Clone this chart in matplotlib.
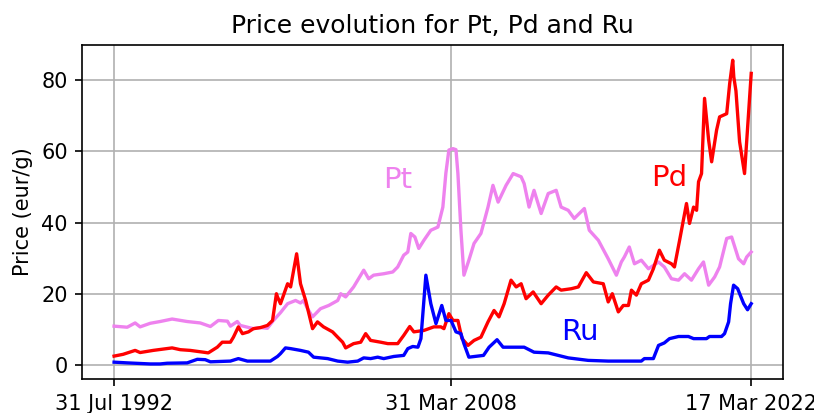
"""Price evolution chart for Pt, Pd and Ru."""

import matplotlib

matplotlib.use("Agg")

from matplotlib import pyplot as plt  # noqa: E402

# dates are decimal years, prices in eur/g
pt_years = [
    1992.58, 1993.00, 1993.19, 1993.56, 1993.79, 1994.26, 1994.72, 1995.28, 1995.98, 1996.59,
    1997.06, 1997.43, 1997.85, 1997.99, 1998.31, 1998.45, 1999.06, 1999.39, 1999.71, 1999.99,
    2000.32, 2000.65, 2001.02, 2001.25, 2001.39, 2001.58, 2001.81, 2002.18, 2002.56, 2002.98,
    2003.12, 2003.35, 2003.72, 2004.05, 2004.19, 2004.42, 2004.65, 2005.12, 2005.54, 2005.77,
    2006.05, 2006.24, 2006.38, 2006.57, 2006.75, 2006.99, 2007.31, 2007.64, 2007.87, 2008.01,
    2008.15, 2008.34, 2008.48, 2008.57, 2008.71, 2008.85, 2009.08, 2009.32, 2009.64, 2009.97,
    2010.20, 2010.44, 2010.81, 2011.14, 2011.51, 2011.65, 2011.88, 2012.11, 2012.44, 2012.77,
    2013.14, 2013.37, 2013.70, 2013.98, 2014.45, 2014.68, 2015.10, 2015.56, 2015.94, 2016.17,
    2016.31, 2016.54, 2016.78, 2017.10, 2017.43, 2017.90, 2018.17, 2018.50, 2018.83, 2019.11,
    2019.43, 2019.76, 2019.99, 2020.23, 2020.51, 2020.74, 2021.07, 2021.30, 2021.62, 2021.86,
    2022.00, 2022.21,
]
pt_prices = [
    11.0, 10.8, 10.7, 11.9, 10.8, 11.8, 12.3, 13.0, 12.3, 11.9,
    10.9, 12.6, 12.4, 11.0, 12.3, 11.2, 10.3, 10.6, 10.4, 12.6,
    14.8, 17.3, 18.2, 17.5, 18.2, 15.9, 13.6, 15.9, 16.8, 18.2,
    20.1, 19.2, 22.0, 25.3, 26.7, 24.3, 25.3, 25.7, 26.2, 27.6,
    30.9, 31.8, 37.0, 36.0, 32.8, 35.1, 37.9, 38.8, 44.4, 53.9,
    60.4, 60.8, 60.5, 53.8, 37.9, 25.3, 29.5, 34.2, 37.0, 44.4,
    50.5, 45.8, 50.5, 53.8, 52.9, 51.0, 44.4, 49.1, 42.6, 48.2,
    49.1, 44.4, 43.5, 41.2, 44.0, 37.9, 35.1, 29.9, 25.3, 29.0,
    30.4, 33.2, 28.5, 29.5, 27.1, 29.0, 27.6, 24.3, 23.9, 25.7,
    23.9, 27.1, 29.0, 22.5, 24.8, 27.6, 35.6, 36.0, 29.9, 28.5,
    30.4, 31.8,
]

pd_years = [
    1992.58, 1993.00, 1993.56, 1993.79, 1994.40, 1995.28, 1995.66, 1996.12, 1996.73, 1996.96,
    1997.38, 1997.61, 1997.99, 1998.13, 1998.36, 1998.55, 1998.83, 1999.06, 1999.39, 1999.71,
    1999.95, 2000.13, 2000.18, 2000.32, 2000.65, 2000.79, 2001.07, 2001.25, 2001.49, 2001.81,
    2002.04, 2002.32, 2002.74, 2002.98, 2003.21, 2003.35, 2003.72, 2004.05, 2004.28, 2004.51,
    2004.98, 2005.31, 2005.77, 2006.05, 2006.33, 2006.52, 2006.99, 2007.45, 2007.78, 2007.92,
    2008.15, 2008.34, 2008.57, 2008.76, 2009.04, 2009.32, 2009.64, 2009.97, 2010.25, 2010.48,
    2010.72, 2011.04, 2011.28, 2011.51, 2011.74, 2012.07, 2012.44, 2012.77, 2013.14, 2013.37,
    2013.84, 2014.17, 2014.54, 2014.87, 2015.33, 2015.56, 2015.75, 2016.03, 2016.26, 2016.50,
    2016.64, 2016.87, 2017.10, 2017.43, 2017.66, 2017.94, 2018.17, 2018.50, 2018.64, 2018.88,
    2019.20, 2019.34, 2019.53, 2019.67, 2019.76, 2019.90, 2020.04, 2020.23, 2020.37, 2020.60,
    2020.74, 2021.07, 2021.21, 2021.35, 2021.40, 2021.50, 2021.67, 2021.90, 2022.21,
]
pd_prices = [
    2.6, 3.1, 4.2, 3.6, 4.2, 4.9, 4.4, 4.2, 3.7, 3.5,
    5.1, 6.5, 6.5, 7.9, 10.8, 8.9, 9.4, 10.3, 10.6, 11.2,
    12.6, 20.1, 19.2, 17.3, 22.9, 22.0, 31.3, 22.9, 18.2, 10.3,
    12.2, 10.8, 9.4, 7.9, 6.5, 4.9, 6.1, 6.5, 8.9, 7.0,
    6.5, 6.1, 6.1, 8.4, 10.9, 9.4, 9.8, 10.8, 10.8, 10.3,
    14.5, 12.6, 12.6, 7.5, 5.6, 7.0, 7.9, 12.2, 15.4, 13.6,
    17.3, 23.9, 22.0, 22.9, 18.7, 20.6, 17.3, 19.7, 22.0, 21.1,
    21.5, 22.0, 26.0, 23.4, 22.9, 17.8, 20.1, 15.0, 16.8, 16.8,
    21.1, 19.7, 22.9, 23.9, 27.1, 32.3, 29.5, 28.5, 27.6, 35.1,
    45.4, 39.8, 44.4, 43.5, 51.5, 53.8, 74.9, 63.2, 57.1, 66.0,
    69.7, 70.6, 79.1, 85.6, 80.9, 77.0, 62.7, 53.8, 81.9,
]

ru_years = [
    1992.58, 1993.19, 1994.26, 1994.72, 1995.05, 1995.98, 1996.45, 1996.82, 1997.06, 1997.99,
    1998.36, 1998.78, 1999.85, 2000.18, 2000.32, 2000.55, 2000.79, 2001.25, 2001.62, 2001.86,
    2002.51, 2002.98, 2003.44, 2003.91, 2004.19, 2004.51, 2004.84, 2005.12, 2005.59, 2006.05,
    2006.24, 2006.47, 2006.71, 2006.85, 2007.08, 2007.31, 2007.55, 2007.82, 2008.01, 2008.25,
    2008.48, 2008.71, 2008.85, 2009.08, 2009.76, 2010.02, 2010.39, 2010.67, 2011.65, 2012.11,
    2012.77, 2013.70, 2014.63, 2015.56, 2017.10, 2017.24, 2017.66, 2017.90, 2018.17, 2018.41,
    2018.83, 2019.29, 2019.53, 2020.13, 2020.27, 2020.83, 2020.97, 2021.16, 2021.25, 2021.39,
    2021.58, 2021.86, 2022.04, 2022.21,
]
ru_prices = [
    0.9, 0.7, 0.4, 0.4, 0.6, 0.7, 1.7, 1.6, 1.0, 1.2,
    1.9, 1.2, 1.2, 2.5, 3.3, 4.9, 4.7, 4.2, 3.7, 2.3,
    1.9, 1.2, 0.9, 1.2, 2.1, 1.9, 2.3, 1.9, 2.5, 2.8,
    4.7, 5.3, 5.1, 7.5, 25.3, 17.3, 11.7, 16.8, 12.6, 12.6,
    9.4, 8.9, 6.1, 2.3, 2.8, 5.1, 7.2, 5.1, 5.1, 3.7,
    3.5, 2.1, 1.4, 1.2, 1.2, 1.9, 1.9, 5.6, 6.3, 7.5,
    8.1, 8.1, 7.5, 7.5, 8.1, 8.1, 8.9, 12.2, 17.3, 22.5,
    21.5, 17.3, 15.6, 17.3,
]

tick_years = [1992.58, 2008.25, 2022.21]
tick_labels = ["31 Jul 1992", "31 Mar 2008", "17 Mar 2022"]

fig, ax = plt.subplots(figsize=(814 / 150, 413 / 150), dpi=150)
fig.subplots_adjust(left=0.101, right=0.962, top=0.891, bottom=0.082)

ax.plot(pt_years, pt_prices, color="violet", linewidth=1.6)
ax.plot(pd_years, pd_prices, color="red", linewidth=1.6)
ax.plot(ru_years, ru_prices, color="blue", linewidth=1.6)

ax.text(2005.1, 49.8, "Pt", color="violet", fontsize=14)
ax.text(2017.55, 50.3, "Pd", color="red", fontsize=14)
ax.text(2013.35, 7.0, "Ru", color="blue", fontsize=14)

ax.set_xticks(tick_years)
ax.set_xticklabels(tick_labels)
ax.set_yticks([0, 20, 40, 60, 80])
ax.set_ylabel("Price (eur/g)")
ax.set_title("Price evolution for Pt, Pd and Ru")
ax.grid(True)

fig.savefig("out.png", dpi=150)
